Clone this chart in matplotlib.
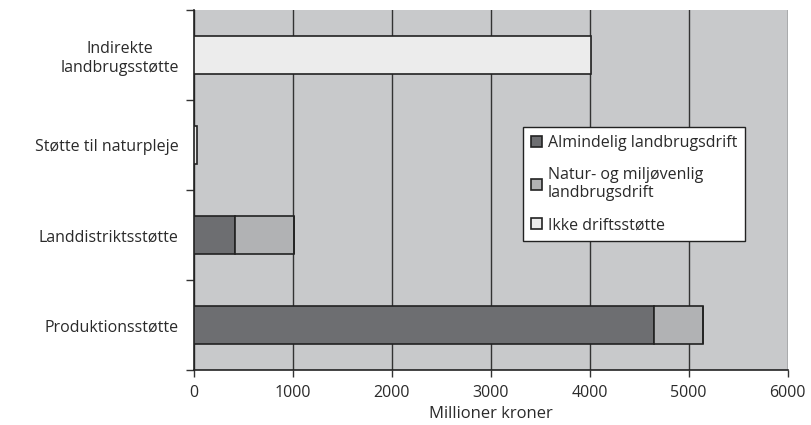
import matplotlib.pyplot as plt
import numpy as np

plt.rcParams['font.family'] = ['Open Sans', 'DejaVu Sans']

categories = ['Produktionsstøtte', 'Landdistriktsstøtte', 'Støtte til naturpleje',
              'Indirekte\nlandbrugsstøtte']
almindelig = [4650, 415, 0, 0]
natur = [490, 600, 0, 0]
ikke_drift = [0, 0, 30, 4010]
series_labels = ['Almindelig landbrugsdrift', 'Natur- og miljøvenlig\nlandbrugsdrift',
                 'Ikke driftsstøtte']
xticks = [0, 1000, 2000, 3000, 4000, 5000, 6000]

fig = plt.figure(figsize=(8.12, 4.25), dpi=100)
ax = fig.add_axes([0.239, 0.129, 0.731, 0.847])
ax.set_facecolor('#c8c9cb')

y = np.arange(len(categories))
h = 0.42
c_dark, c_mid, c_light = '#6d6e71', '#b1b2b4', '#ececec'
b1 = ax.barh(y, almindelig, h, color=c_dark, edgecolor='#222222', linewidth=1.2, zorder=3)
b2 = ax.barh(y, natur, h, left=almindelig, color=c_mid, edgecolor='#222222', linewidth=1.2, zorder=3)
left3 = np.array(almindelig) + np.array(natur)
b3 = ax.barh(y, ikke_drift, h, left=left3, color=c_light, edgecolor='#222222', linewidth=1.2, zorder=3)

ax.set_xlim(0, 6000)
ax.set_ylim(-0.5, 3.5)
ax.set_xticks(xticks)
ax.xaxis.grid(True, color='#333333', linewidth=1)
ax.set_axisbelow(True)
ax.set_yticks(y)
ax.set_yticklabels(categories, fontsize=11.5, color='#2a2a2a', multialignment='center')
ax.tick_params(axis='y', length=0, pad=11)
ax.set_yticks(np.arange(-0.5, 4, 1), minor=True)
ax.tick_params(axis='y', which='minor', length=6, width=1, color='#333333')
ax.tick_params(axis='x', direction='out', length=5, width=1, color='#333333',
               labelsize=11.5, labelcolor='#2a2a2a', pad=6)
for s in ['top', 'right']:
    ax.spines[s].set_visible(False)
for s in ['left', 'bottom']:
    ax.spines[s].set_color('#222222')
    ax.spines[s].set_linewidth(1.2)
ax.set_xlabel('Millioner kroner', fontsize=12, color='#2a2a2a', labelpad=3)

leg = ax.legend([b1, b2, b3], series_labels, loc='upper left',
                bbox_to_anchor=(523 / 812, 1 - 127 / 425), bbox_transform=fig.transFigure,
                fontsize=11.5, frameon=True, fancybox=False, borderpad=0.5,
                handlelength=0.7, handleheight=0.7, handletextpad=0.35,
                labelspacing=1.0, borderaxespad=0)
leg.get_frame().set_edgecolor('#222222')
leg.get_frame().set_linewidth(1.0)
leg.get_frame().set_facecolor('white')
leg.get_frame().set_alpha(1)
for t in leg.get_texts():
    t.set_color('#2a2a2a')

fig.savefig('out.png', dpi=100)
